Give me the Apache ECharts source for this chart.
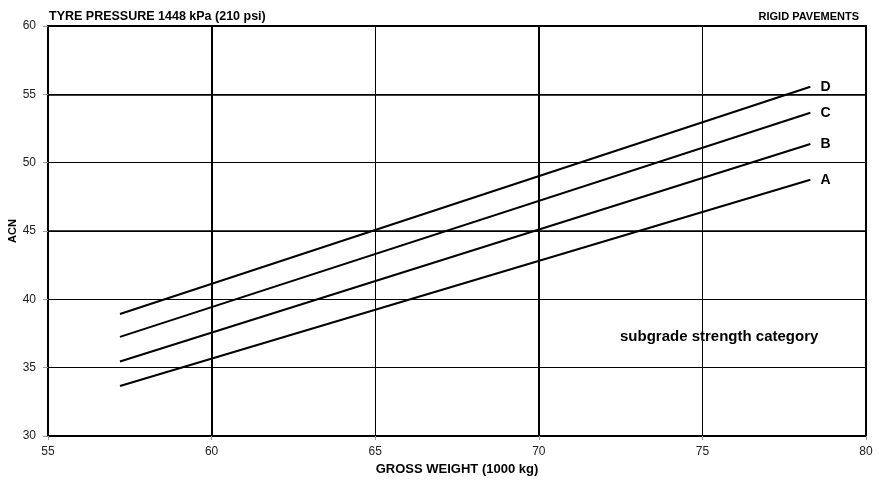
<!DOCTYPE html>
<html>
<head>
<meta charset="utf-8">
<script src="https://cdn.jsdelivr.net/npm/echarts@6/dist/echarts.min.js"></script>
<style>html,body{margin:0;padding:0;background:#fff;}#c{width:880px;height:481px;}</style>
</head>
<body>
<div id="c"></div>
<script>
const weights = [57.2, 78.3];
const acnA = [33.66, 48.75];
const acnB = [35.45, 51.37];
const acnC = [37.25, 53.65];
const acnD = [38.93, 55.55];
const seriesNames = ['A', 'B', 'C', 'D'];
const xTicks = [55, 60, 65, 70, 75, 80];
const yTicks = [30, 35, 40, 45, 50, 55, 60];
const thickX = [60, 70];
const thickY = [45, 55];

const FONT = '"Liberation Sans", Arial, sans-serif';
const chart = echarts.init(document.getElementById('c'), null, {renderer: 'canvas'});

function pts(vals) { return weights.map((w, i) => [w, vals[i]]); }
const allVals = [acnA, acnB, acnC, acnD];

const series = seriesNames.map((n, i) => ({
  name: n,
  type: 'line',
  data: pts(allVals[i]),
  symbol: 'none',
  lineStyle: {color: '#000', width: 2},
  z: 5,
  endLabel: {
    show: true,
    formatter: n,
    distance: 10,
    color: '#000',
    fontFamily: FONT,
    fontWeight: 'bold',
    fontSize: 14
  },
  animation: false
}));

series.push({
  type: 'line',
  data: [],
  symbol: 'none',
  silent: true,
  markLine: {
    symbol: 'none',
    silent: true,
    label: {show: false},
    animation: false,
    data: thickX.map(v => ({xAxis: v, lineStyle: {color: '#000', width: 2, type: 'solid'}}))
      .concat(thickY.map(v => ({yAxis: v, lineStyle: {color: '#000', width: 1.6, type: 'solid'}})))
  }
});

chart.setOption({
  animation: false,
  textStyle: {fontFamily: FONT},
  title: [
    {text: 'TYRE PRESSURE 1448 kPa (210 psi)', left: 44, top: 5,
     textStyle: {fontSize: 12.5, fontWeight: 'bold', color: '#000', fontFamily: FONT}},
    {text: 'RIGID PAVEMENTS', right: 16, top: 6,
     textStyle: {fontSize: 11, fontWeight: 'bold', color: '#000', fontFamily: FONT}}
  ],
  grid: {left: 48, right: 14, top: 26, bottom: 45, outerBoundsMode: 'none', containLabel: false,
         show: true, borderColor: '#000', borderWidth: 2, backgroundColor: '#fff'},
  xAxis: {
    type: 'value', min: xTicks[0], max: xTicks[xTicks.length - 1], interval: 5,
    name: 'GROSS WEIGHT (1000 kg)', nameLocation: 'middle', nameGap: 24,
    nameTextStyle: {fontSize: 13, fontWeight: 'bold', color: '#000', fontFamily: FONT},
    axisLine: {show: true, lineStyle: {color: '#000', width: 2}},
    axisTick: {show: true, length: 4, lineStyle: {color: '#999'}},
    axisLabel: {fontSize: 12, color: '#222', margin: 10, fontFamily: FONT},
    splitLine: {show: true, lineStyle: {color: '#000', width: 1}}
  },
  yAxis: {
    type: 'value', min: yTicks[0], max: yTicks[yTicks.length - 1], interval: 5,
    name: 'ACN', nameLocation: 'middle', nameGap: 30, nameMoveOverlap: false,
    nameTextStyle: {fontSize: 11, fontWeight: 'bold', color: '#000', fontFamily: FONT},
    axisLine: {show: true, lineStyle: {color: '#000', width: 2}},
    axisTick: {show: true, length: 5, lineStyle: {color: '#999'}},
    axisLabel: {fontSize: 12, color: '#222', margin: 12, fontFamily: FONT},
    splitLine: {show: true, lineStyle: {color: '#000', width: 1}}
  },
  graphic: [{
    type: 'text', left: 620, top: 329,
    style: {text: 'subgrade strength category', fill: '#000', font: 'bold 15px "Liberation Sans", Arial, sans-serif'}
  }],
  series: series
});
</script>
</body>
</html>
